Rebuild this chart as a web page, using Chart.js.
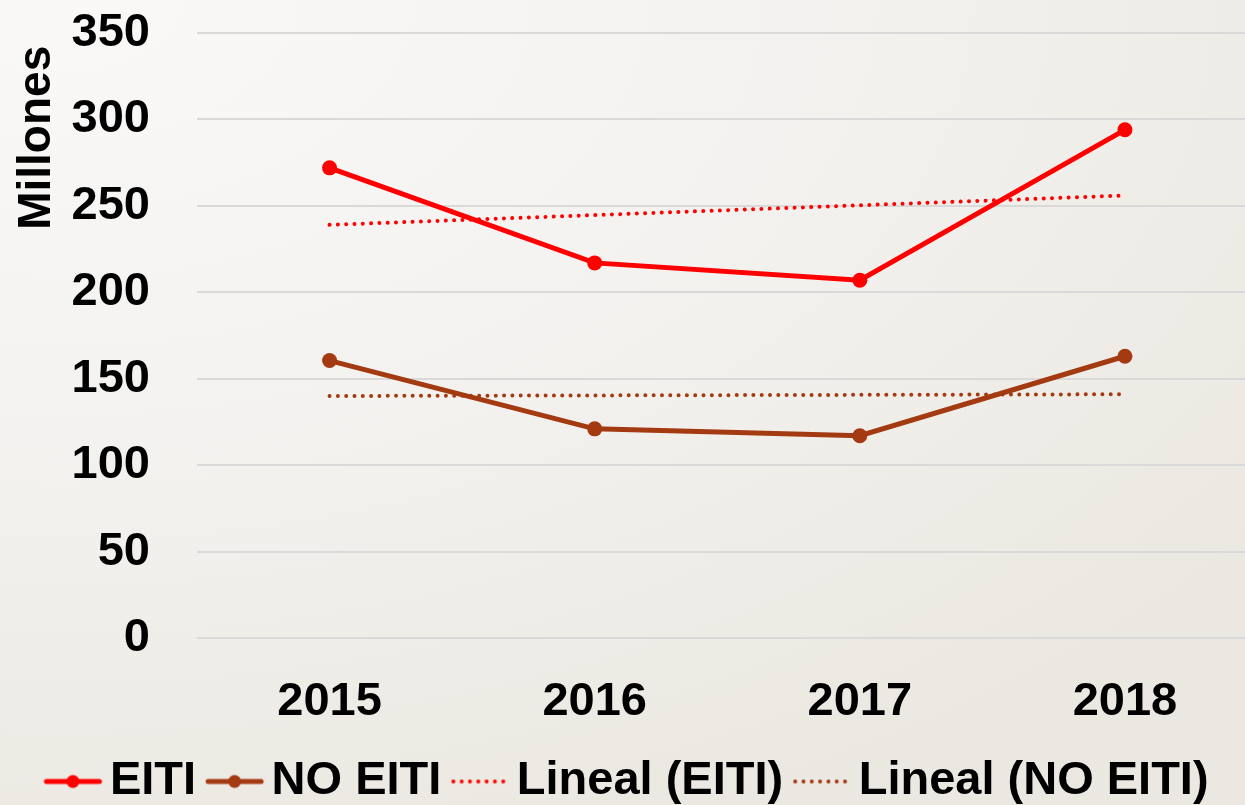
<!DOCTYPE html>
<html>
<head>
<meta charset="utf-8">
<script src="https://cdn.jsdelivr.net/npm/chart.js@4/dist/chart.umd.min.js"></script>
<style>
  html, body { margin: 0; padding: 0; width: 1245px; height: 805px; overflow: hidden; }
  body { background: radial-gradient(ellipse 120% 110% at 5% 0%, #faf9f8 0%, #f3f1ee 55%, #ebe8e1 100%); }
  /* canvas a bit wider than the page: the plot runs past the right edge */
  #wrap { position: absolute; left: -20px; top: 0; width: 1285px; height: 805px; }
</style>
</head>
<body>
<div id="wrap"><canvas id="chart"></canvas></div>
<script>
// Chart data
const years = ['2015', '2016', '2017', '2018'];
const eiti = [272, 217, 207, 294];
const noEiti = [160.5, 121, 117, 163];
// trend lines: only the two end points, joined across the gaps
const eitiTrend = [239, null, null, 256];
const noEitiTrend = [140, null, null, 141];
const yMin = 0;
const yMax = 350;
const yStep = 50;

const RED = '#ff0000';
const BROWN = '#a33a12';
const FONT = '"Liberation Sans", Arial, sans-serif';

// little canvases used as legend markers (line + dot, or dotted line)
function legendMarker(color, dotted) {
    const c = document.createElement('canvas');
    c.width = 74;
    c.height = 20;
    const ctx = c.getContext('2d');
    const x0 = 14, x1 = 73;
    ctx.strokeStyle = color;
    ctx.lineCap = 'round';
    if (dotted) {
        ctx.lineWidth = 4;
        ctx.setLineDash([0.01, 8.3]);
    } else {
        ctx.lineWidth = 5;
    }
    ctx.beginPath();
    ctx.moveTo(x0 + 3, 10);
    ctx.lineTo(x1 - 3, 10);
    ctx.stroke();
    if (!dotted) {
        ctx.fillStyle = color;
        ctx.beginPath();
        ctx.arc((x0 + x1) / 2, 10, 6.5, 0, Math.PI * 2);
        ctx.fill();
    }
    return c;
}

const markers = [
    legendMarker(RED, false),
    legendMarker(BROWN, false),
    legendMarker(RED, true),
    legendMarker(BROWN, true)
];

// the legend sits a little left of the plot's centre in the original
const legendShift = {
    id: 'legendShift',
    afterLayout(chart) {
        if (chart.legend) {
            chart.legend.left -= 10;
            chart.legend.right -= 10;
        }
    }
};

new Chart(document.getElementById('chart'), {
    type: 'line',
    data: {
        labels: years,
        datasets: [
            {
                label: 'EITI',
                data: eiti,
                borderColor: RED,
                backgroundColor: RED,
                borderWidth: 5,
                pointRadius: 7.5,
                pointBorderWidth: 0,
                pointBackgroundColor: RED,
                tension: 0
            },
            {
                label: 'NO EITI',
                data: noEiti,
                borderColor: BROWN,
                backgroundColor: BROWN,
                borderWidth: 5,
                pointRadius: 7.5,
                pointBorderWidth: 0,
                pointBackgroundColor: BROWN,
                tension: 0
            },
            {
                label: 'Lineal (EITI)',
                data: eitiTrend,
                borderColor: RED,
                borderWidth: 4,
                borderDash: [0.01, 8.3],
                borderCapStyle: 'round',
                pointRadius: 0,
                spanGaps: true
            },
            {
                label: 'Lineal (NO EITI)',
                data: noEitiTrend,
                borderColor: BROWN,
                borderWidth: 4,
                borderDash: [0.01, 8.3],
                borderCapStyle: 'round',
                pointRadius: 0,
                spanGaps: true
            }
        ]
    },
    options: {
        responsive: true,
        maintainAspectRatio: false,
        animation: false,
        layout: {
            padding: { top: 0, right: 0, left: 30, bottom: -10 }
        },
        plugins: {
            tooltip: { enabled: false },
            legend: {
                position: 'bottom',
                labels: {
                    usePointStyle: true,
                    pointStyleWidth: 40,
                    padding: 12,
                    color: '#000',
                    font: { family: FONT, size: 47, weight: 'bold' },
                    generateLabels: (chart) => chart.data.datasets.map((ds, i) => ({
                        text: ds.label,
                        pointStyle: markers[i],
                        fillStyle: ds.borderColor,
                        strokeStyle: ds.borderColor,
                        lineWidth: 0,
                        fontColor: '#000',
                        hidden: false,
                        datasetIndex: i
                    }))
                }
            }
        },
        scales: {
            x: {
                offset: true,
                grid: { display: false },
                border: { display: false },
                ticks: {
                    color: '#000',
                    padding: 28,
                    font: { family: FONT, size: 47, weight: 'bold' }
                },
                afterFit: (scale) => { scale.height = 108; }
            },
            y: {
                min: yMin,
                max: yMax,
                grid: { color: '#d9d9d9', lineWidth: 2, drawTicks: false },
                border: { display: false },
                ticks: {
                    stepSize: yStep,
                    color: '#000',
                    padding: 47,
                    font: { family: FONT, size: 47, weight: 'bold' }
                },
                title: {
                    display: true,
                    text: 'Millones ',
                    align: 'end',
                    color: '#000',
                    padding: 0,
                    font: { family: FONT, size: 46, weight: 'bold' }
                },
                afterFit: (scale) => {
                    scale.width = 187;
                    scale.paddingTop = 33;
                    scale.paddingBottom = 28;
                }
            }
        }
    },
    plugins: [legendShift]
});
</script>
</body>
</html>
